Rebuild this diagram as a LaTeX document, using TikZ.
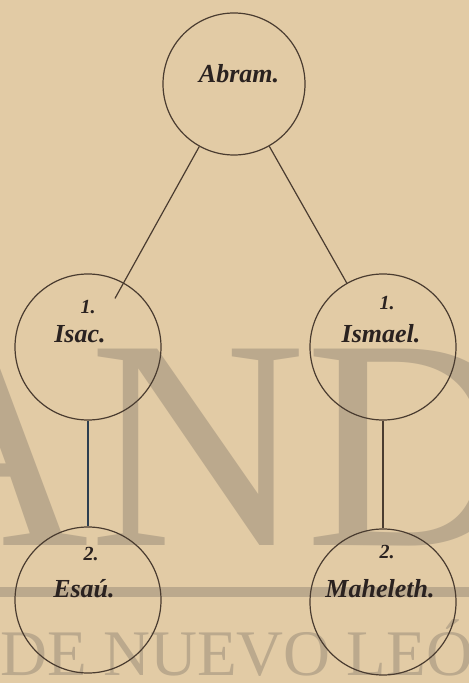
\documentclass[tikz,border=0pt]{standalone}
\usepackage{fontspec}
\setmainfont{Liberation Serif}
\definecolor{paper}{HTML}{E2CBA5}
\definecolor{ink}{HTML}{4A3C30}
\definecolor{blueink}{HTML}{2C3E50}
\definecolor{textink}{HTML}{2A2220}
\definecolor{wmark}{HTML}{BBA98D}
\tikzset{
  person/.style={circle,draw=ink,line width=0.6pt,minimum size=73pt,inner sep=0pt},
  persname/.style={font=\fontsize{13}{13}\selectfont\bfseries\itshape,text=textink,anchor=base,inner sep=0pt},
  gen/.style={font=\fontsize{10}{10}\selectfont\bfseries\itshape,text=textink,anchor=base,inner sep=0pt},
  tie/.style={draw=ink,line width=0.6pt},
  wmtext/.style={text=wmark,anchor=base west,inner sep=0pt}
}
\begin{document}
\begin{tikzpicture}[x=0.5pt,y=-0.5pt]
\fill[paper] (0,0) rectangle (469,683);
\useasboundingbox (0,0) rectangle (469,683);

\begin{scope}
\clip (0,0) rectangle (469,683);
\node[wmtext,font=\fontsize{150}{150}\selectfont] (wmbig) at (-128,545) {AND};
\fill[wmark] (0,587) rectangle (469,597);
\node[wmtext,font=\fontsize{32.5}{32.5}\selectfont] (wmline) at (0,675) {DE NUEVO LEÓN};
\end{scope}

\node[person,minimum size=71pt] (abram) at (234,84) {};
\node[person] (isac) at (88,347) {};
\node[person] (ismael) at (383,347) {};
\node[person] (esau) at (88,600) {};
\node[person] (maheleth) at (383,602) {};

\draw[tie,shorten >=-9pt] (abram) -- (isac);
\draw[tie] (abram) -- (ismael);
\draw[tie,draw=blueink] (isac) -- (esau);
\draw[tie] (ismael) -- (maheleth);

\node[persname] (abram-t) at (239,83) {Abram.};
\node[gen] (isac-n) at (88,314) {1.};
\node[persname] (isac-t) at (80,343) {Isac.};
\node[gen] (ismael-n) at (387,310) {1.};
\node[persname] (ismael-t) at (381,343) {Ismael.};
\node[gen] (esau-n) at (91,560) {2.};
\node[persname] (esau-t) at (84,597) {Esaú.};
\node[gen] (maheleth-n) at (387,558) {2.};
\node[persname] (maheleth-t) at (380,597) {Maheleth.};
\end{tikzpicture}
\end{document}
